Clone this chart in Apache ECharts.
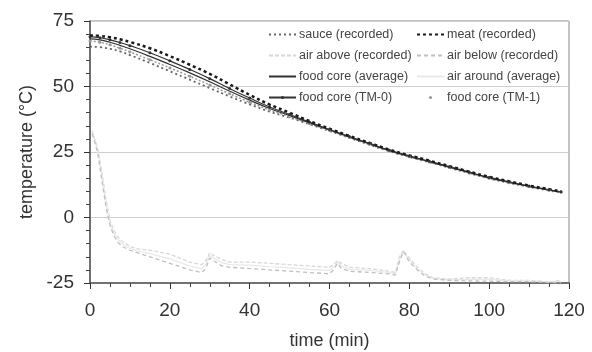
<!DOCTYPE html>
<html>
<head>
<meta charset="utf-8">
<script src="https://cdn.jsdelivr.net/npm/echarts@6/dist/echarts.min.js"></script>
<style>
  html, body { margin: 0; padding: 0; background: #fff; }
  #chart { width: 592px; height: 352px; }
</style>
</head>
<body>
<div id="chart"></div>
<script>
// cooling curves (food and sauce)
const tCool = [0, 2.5, 5, 7.5, 10, 15, 20, 25, 30, 35, 40, 45, 50, 55, 60, 65, 70, 75, 80, 85, 90, 95, 100, 105, 110, 115, 118];
const meat  = [69.5, 69.3, 68.8, 68.0, 67.0, 64.6, 61.6, 58.3, 54.8, 50.8, 46.8, 43.1, 40.0, 36.8, 33.9, 31.1, 28.5, 25.9, 23.7, 21.7, 19.6, 17.5, 15.5, 13.8, 12.2, 10.8, 10.0];
const tm0   = [69.0, 68.6, 67.8, 66.8, 65.6, 62.9, 59.8, 56.5, 53.0, 49.2, 45.6, 42.2, 39.3, 36.4, 33.6, 30.9, 28.3, 25.7, 23.5, 21.5, 19.4, 17.3, 15.3, 13.6, 12.0, 10.6, 9.8];
const coreAvg = [68.2, 67.8, 66.9, 65.7, 64.4, 61.5, 58.4, 55.2, 51.8, 48.2, 44.8, 41.6, 38.9, 36.1, 33.4, 30.7, 28.1, 25.5, 23.3, 21.3, 19.2, 17.1, 15.1, 13.4, 11.9, 10.5, 9.7];
const tm1   = [67.4, 66.9, 65.9, 64.6, 63.2, 60.2, 57.1, 53.9, 50.6, 47.2, 44.0, 41.0, 38.5, 35.8, 33.2, 30.5, 27.9, 25.4, 23.2, 21.2, 19.1, 17.0, 15.0, 13.3, 11.8, 10.4, 9.6];
const sauce = [65.2, 65.0, 64.4, 63.4, 62.0, 59.0, 55.8, 52.6, 49.4, 46.2, 43.2, 40.4, 38.1, 35.6, 33.0, 30.4, 27.8, 25.3, 23.1, 21.1, 19.0, 16.9, 14.9, 13.2, 11.7, 10.3, 9.5];

// air curves
const tAir = [0.5, 1, 2, 3, 4, 5, 6, 7, 8, 10, 12, 15, 20, 25, 28, 29, 30, 31, 33, 35, 40, 45, 50, 55, 60, 61, 62, 63, 65, 70, 75, 76.5, 77.5, 78.5, 80, 82, 84, 86, 90, 95, 100, 105, 110, 115, 118];
const airBelow  = [32, 30, 24, 14, 4, -3, -7, -9.5, -11, -12.5, -13.5, -15, -17.5, -20, -21, -19.5, -15.5, -16.5, -18.5, -19, -19.5, -20, -20.5, -21, -21.5, -20, -17.5, -19.5, -20.5, -21, -21.5, -22, -17, -13, -17, -20, -22.5, -23.5, -24, -24.2, -24.3, -24.5, -24.5, -24.8, -24.8];
const airAbove  = [33, 31, 26, 17, 7, -1, -5, -7.5, -9, -11, -12, -12.5, -14, -17, -18, -16.5, -13.5, -14.5, -16, -17, -17, -17.5, -18, -18.5, -19, -18, -16.5, -17.5, -19, -19.5, -20.5, -21, -15, -12.5, -15.5, -19, -21.5, -23, -23.5, -23, -23, -24, -24, -24.5, -24];
const airAround = [32.5, 30.5, 25, 15.5, 5.5, -2, -6, -8.5, -10, -11.8, -12.8, -13.8, -15.8, -18.5, -19.5, -18, -14.5, -15.5, -17.2, -18, -18.2, -18.8, -19.2, -19.8, -20.2, -19, -17, -18.5, -19.8, -20.2, -21, -21.5, -16, -12.8, -16.2, -19.5, -22, -23.2, -23.8, -23.6, -23.6, -24.2, -24.2, -24.6, -24.4];

const xTicks = { min: 0, max: 120, interval: 20 };
const yTicks = { min: -25, max: 75, interval: 25 };

const pair = (xs, ys) => xs.map((x, i) => [x, ys[i]]);
const font = "Liberation Sans";
const noMark = { opacity: 0 };

const chart = echarts.init(document.getElementById("chart"));

const legendBase = {
  orient: "vertical",
  top: 28,
  padding: 0,
  itemWidth: 27,
  itemHeight: 4,
  itemGap: 8,
  textStyle: { fontFamily: font, fontSize: 12.5, color: "#444", padding: [0, 0, 0, -2] },
  selectedMode: false,
};

chart.setOption({
  animation: false,
  backgroundColor: "#fff",
  grid: {
    left: 90, right: 23, top: 21, bottom: 69,
    containLabel: false, outerBoundsMode: "none",
    show: true, borderColor: "#888", borderWidth: 1,
  },
  legend: [
    Object.assign({}, legendBase, {
      left: 268,
      data: [
        { name: "sauce (recorded)", itemStyle: noMark },
        { name: "air above (recorded)", itemStyle: noMark },
        { name: "food core (average)", itemStyle: noMark },
        "food core (TM-0)",
      ],
    }),
    Object.assign({}, legendBase, {
      left: 416,
      data: [
        { name: "meat (recorded)", itemStyle: noMark },
        { name: "air below (recorded)", itemStyle: noMark },
        { name: "air around (average)", itemStyle: noMark },
        { name: "food core (TM-1)", lineStyle: { opacity: 0 } },
      ],
    }),
  ],
  xAxis: {
    type: "value",
    min: xTicks.min, max: xTicks.max, interval: xTicks.interval,
    name: "time (min)",
    nameLocation: "middle",
    nameGap: 49,
    nameTextStyle: { fontFamily: font, fontSize: 18, color: "#333" },
    axisLine: { show: true, onZero: false, lineStyle: { color: "#555", width: 1.5 } },
    axisTick: { show: true, inside: false, length: 6, lineStyle: { color: "#333", width: 1 } },
    minorTick: { show: true, splitNumber: 4, length: 4, lineStyle: { color: "#444", width: 1 } },
    axisLabel: { fontFamily: font, fontSize: 19, color: "#333", margin: 18 },
    splitLine: { show: false },
  },
  yAxis: {
    type: "value",
    min: yTicks.min, max: yTicks.max, interval: yTicks.interval,
    name: "temperature (°C)",
    nameLocation: "middle",
    nameGap: 51,
    nameTextStyle: { fontFamily: font, fontSize: 18, color: "#333" },
    axisLine: { show: true, onZero: false, lineStyle: { color: "#555", width: 1.5 } },
    axisTick: { show: true, inside: false, length: 6, lineStyle: { color: "#333", width: 1 } },
    minorTick: { show: true, splitNumber: 5, length: 4, lineStyle: { color: "#444", width: 1 } },
    axisLabel: { fontFamily: font, fontSize: 19, color: "#333", margin: 16 },
    splitLine: { lineStyle: { color: "#cfcfcf", width: 1 } },
  },
  series: [
    {
      name: "air above (recorded)", type: "line", data: pair(tAir, airAbove), symbol: "none",
      lineStyle: { color: "#d8d8d8", width: 1.3, type: [4, 2] }, itemStyle: { color: "#d8d8d8" },
    },
    {
      name: "air around (average)", type: "line", data: pair(tAir, airAround), symbol: "none",
      lineStyle: { color: "#e8e8e8", width: 1.2 }, itemStyle: { color: "#e8e8e8" },
    },
    {
      name: "air below (recorded)", type: "line", data: pair(tAir, airBelow), symbol: "none",
      lineStyle: { color: "#c0c0c0", width: 1.3, type: [4, 3] }, itemStyle: { color: "#c0c0c0" },
    },
    {
      name: "sauce (recorded)", type: "line", data: pair(tCool, sauce), smooth: true, symbol: "none",
      lineStyle: { color: "#666", width: 1.8, type: [2, 3] }, itemStyle: { color: "#666" },
    },
    {
      name: "food core (TM-1)", type: "line", data: pair(tCool, tm1), smooth: true,
      symbol: "circle", symbolSize: 3, lineStyle: { color: "#999", width: 1.5, type: [2, 2] }, itemStyle: { color: "#999" },
    },
    {
      name: "food core (average)", type: "line", data: pair(tCool, coreAvg), smooth: true, symbol: "none",
      lineStyle: { color: "#333", width: 1.2 }, itemStyle: { color: "#333" },
    },
    {
      name: "food core (TM-0)", type: "line", data: pair(tCool, tm0), smooth: true,
      symbol: "circle", symbolSize: 3, lineStyle: { color: "#333", width: 1.2 }, itemStyle: { color: "#333" },
    },
    {
      name: "meat (recorded)", type: "line", data: pair(tCool, meat), smooth: true, symbol: "none",
      lineStyle: { color: "#1a1a1a", width: 2.5, type: [3, 3] }, itemStyle: { color: "#1a1a1a" },
    },
  ],
});
</script>
</body>
</html>
